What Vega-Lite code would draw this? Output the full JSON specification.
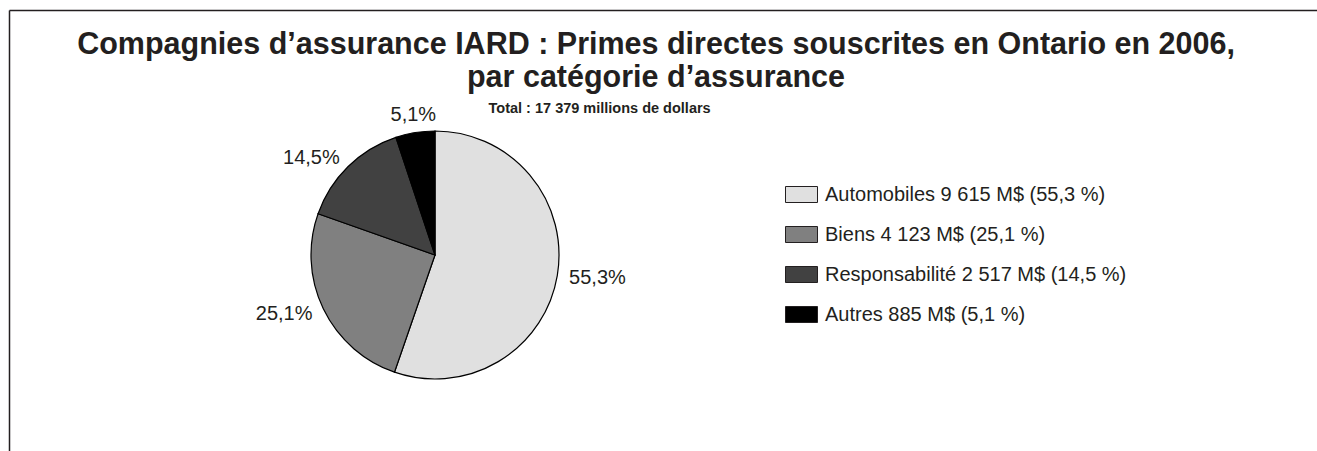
{
  "$schema": "https://vega.github.io/schema/vega-lite/v6.json",
  "autosize": "none",
  "width": 248,
  "height": 248,
  "padding": {"left": 311, "top": 131, "right": 758, "bottom": 72},
  "background": "white",
  "config": {"view": {"stroke": null}, "font": "Liberation Sans"},
  "title": {
    "text": ["Compagnies d’assurance IARD : Primes directes souscrites en Ontario en 2006,", "par catégorie d’assurance"],
    "subtitle": "Total : 17 379 millions de dollars\u00a0\u00a0\u00a0\u00a0\u00a0\u00a0\u00a0\u00a0\u00a0\u00a0\u00a0\u00a0\u00a0\u00a0\u00a0\u00a0\u00a0\u00a0\u00a0\u00a0\u00a0\u00a0\u00a0\u00a0\u00a0\u00a0\u00a0\u00a0\u200b",
    "anchor": "middle",
    "frame": "group",
    "dx": 221,
    "offset": -105,
    "font": "Liberation Sans",
    "fontSize": 30.5,
    "fontWeight": "bold",
    "color": "#231f20",
    "lineHeight": 33,
    "subtitleFont": "Liberation Sans",
    "subtitleFontSize": 14.5,
    "subtitleFontWeight": "bold",
    "subtitleColor": "#231f20",
    "subtitlePadding": 8
  },
  "data": {
    "values": [
      {"categorie": "Automobiles 9 615 M$ (55,3 %)", "part": 55.3, "etiquette": "55,3%", "ordre": 1},
      {"categorie": "Biens 4 123 M$ (25,1 %)", "part": 25.1, "etiquette": "25,1%", "ordre": 2},
      {"categorie": "Responsabilité 2 517 M$ (14,5 %)", "part": 14.5, "etiquette": "14,5%", "ordre": 3},
      {"categorie": "Autres 885 M$ (5,1 %)", "part": 5.1, "etiquette": "5,1%", "ordre": 4}
    ]
  },
  "layer": [
    {
      "mark": {"type": "point", "opacity": 0},
      "encoding": {
        "x": {"datum": 0, "type": "quantitative", "scale": {"domain": [0, 1], "range": [-302, 1200]},
          "axis": {"orient": "top", "offset": 121, "ticks": false, "labels": false, "grid": false, "title": null, "domainColor": "#231f20", "domainWidth": 1.5}},
        "y": {"datum": 0, "type": "quantitative", "scale": {"domain": [0, 1], "range": [400, -121]},
          "axis": {"orient": "left", "offset": 302, "ticks": false, "labels": false, "grid": false, "title": null, "domainColor": "#231f20", "domainWidth": 1.5}}
      }
    },
    {
      "mark": {"type": "arc", "stroke": "#000000", "strokeWidth": 1.2},
      "encoding": {
        "theta": {"field": "part", "type": "quantitative", "stack": true},
        "order": {"field": "ordre", "type": "quantitative"},
        "color": {
          "field": "categorie", "type": "nominal",
          "scale": {
            "domain": ["Automobiles 9 615 M$ (55,3 %)", "Biens 4 123 M$ (25,1 %)", "Responsabilité 2 517 M$ (14,5 %)", "Autres 885 M$ (5,1 %)"],
            "range": ["#e0e0e0", "#808080", "#414141", "#000000"]
          },
          "legend": {
            "orient": "none", "legendX": 474, "legendY": 47,
            "title": null,
            "symbolType": "M-1,-0.5H1V0.5H-1Z",
            "symbolSize": 1024,
            "symbolStrokeColor": "#231f20",
            "symbolStrokeWidth": 1,
            "symbolOpacity": 1,
            "labelFont": "Liberation Sans",
            "labelFontSize": 20,
            "labelColor": "#231f20",
            "labelOffset": 7,
            "labelLimit": 500,
            "rowPadding": 13
          }
        }
      }
    },
    {
      "mark": {
        "type": "text", "radius": 136, "fontSize": 20, "font": "Liberation Sans", "color": "#231f20",
        "align": {"expr": "sin(PI*(datum.part_start+datum.part_end)/100) > 0.3 ? 'left' : (sin(PI*(datum.part_start+datum.part_end)/100) < -0.3 ? 'right' : 'center')"},
        "baseline": {"expr": "cos(PI*(datum.part_start+datum.part_end)/100) > 0.9 ? 'alphabetic' : (cos(PI*(datum.part_start+datum.part_end)/100) < -0.9 ? 'top' : 'middle')"}
      },
      "encoding": {
        "theta": {"field": "part", "type": "quantitative", "stack": true},
        "order": {"field": "ordre", "type": "quantitative"},
        "text": {"field": "etiquette", "type": "nominal"}
      }
    }
  ]
}
